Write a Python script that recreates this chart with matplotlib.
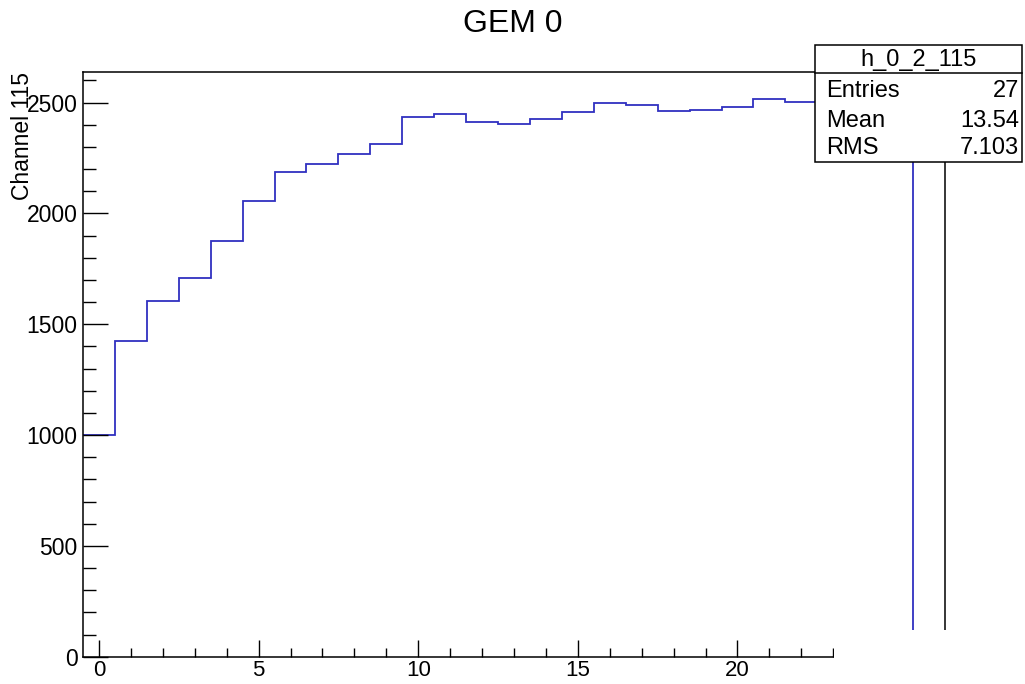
import matplotlib
matplotlib.use("Agg")
import matplotlib.pyplot as plt
from matplotlib.patches import Rectangle
from matplotlib.lines import Line2D
from matplotlib.ticker import MultipleLocator
import numpy as np

plt.rcParams['font.family'] = ['Liberation Sans', 'DejaVu Sans']

# ---- data ----
bin_centers = list(range(27))
counts = [1000, 1423, 1604, 1710, 1877, 2058, 2189, 2225, 2267, 2315,
          2434, 2449, 2413, 2405, 2426, 2457, 2497, 2491, 2461, 2468,
          2482, 2517, 2504, 2505, 2505, 2505, 0]
title = "GEM 0"
ylabel = "Channel 115"
stats_name = "h_0_2_115"
stats_rows = [("Entries", "27"), ("Mean", "13.54"), ("RMS", "7.103")]

W, H = 1025, 684
fig = plt.figure(figsize=(W / 100, H / 100), dpi=100)


def fx(px):
    return px / W


def fy(py):
    return 1 - py / H


ax_left, ax_right, ax_top, ax_bottom = 83, 945, 72, 656.7
ax = fig.add_axes([fx(ax_left), fy(ax_bottom), fx(ax_right - ax_left),
                   (ax_bottom - ax_top) / H])

edges = np.arange(len(counts) + 1) - 0.5
ax.stairs(counts, edges, baseline=None, color="#3030c0", linewidth=1.3)

ax.set_xlim(-0.5, 26.5)
ax.set_ylim(0, 2638)

for s in ax.spines.values():
    s.set_linewidth(1.1)
    s.set_color("black")

ax.xaxis.set_major_locator(MultipleLocator(5))
ax.xaxis.set_minor_locator(MultipleLocator(1))
ax.yaxis.set_major_locator(MultipleLocator(500))
ax.yaxis.set_minor_locator(MultipleLocator(100))

ax.tick_params(axis='x', which='both', direction='in', top=False, bottom=True,
               labelsize=16, pad=2.5, width=1.0, color='black')
ax.tick_params(axis='x', which='major', length=12)
ax.tick_params(axis='x', which='minor', length=6.5)
ax.tick_params(axis='y', which='both', direction='in', right=False, left=True,
               labelsize=16.5, pad=4, width=1.0, color='black')
ax.tick_params(axis='y', which='major', length=18)
ax.tick_params(axis='y', which='minor', length=9.4)

# title and y label
fig.text(fx(513), fy(32), title, ha='center', va='baseline', fontsize=23)
fig.text(fx(23), fy(72), ylabel, rotation=90, ha='center', va='top', fontsize=16.5)

# white overlay on the lower right part (as in the reference)
fig.patches.append(Rectangle((fx(834), 0), 1 - fx(834), fy(630),
                             transform=fig.transFigure, facecolor='white',
                             edgecolor='none', zorder=5))

# stats box
bx0, bx1, by0, by1 = 815, 1022, 45, 162
fig.patches.append(Rectangle((fx(bx0), fy(by1)), fx(bx1 - bx0), (by1 - by0) / H,
                             transform=fig.transFigure, facecolor='white',
                             edgecolor='black', linewidth=1.1, zorder=6))
fig.lines.append(Line2D([fx(bx0), fx(bx1)], [fy(73), fy(73)],
                        transform=fig.transFigure, color='black',
                        linewidth=1.1, zorder=7))
fig.text(fx((bx0 + bx1) / 2), fy(66), stats_name, ha='center', va='baseline',
         fontsize=17, zorder=8)
baselines = [97.3, 127.3, 154]
for (lab, val), b in zip(stats_rows, baselines):
    fig.text(fx(826), fy(b), lab, ha='left', va='baseline', fontsize=17, zorder=8)
    fig.text(fx(1019), fy(b), val, ha='right', va='baseline', fontsize=17, zorder=8)

fig.savefig("out.png", dpi=100)
